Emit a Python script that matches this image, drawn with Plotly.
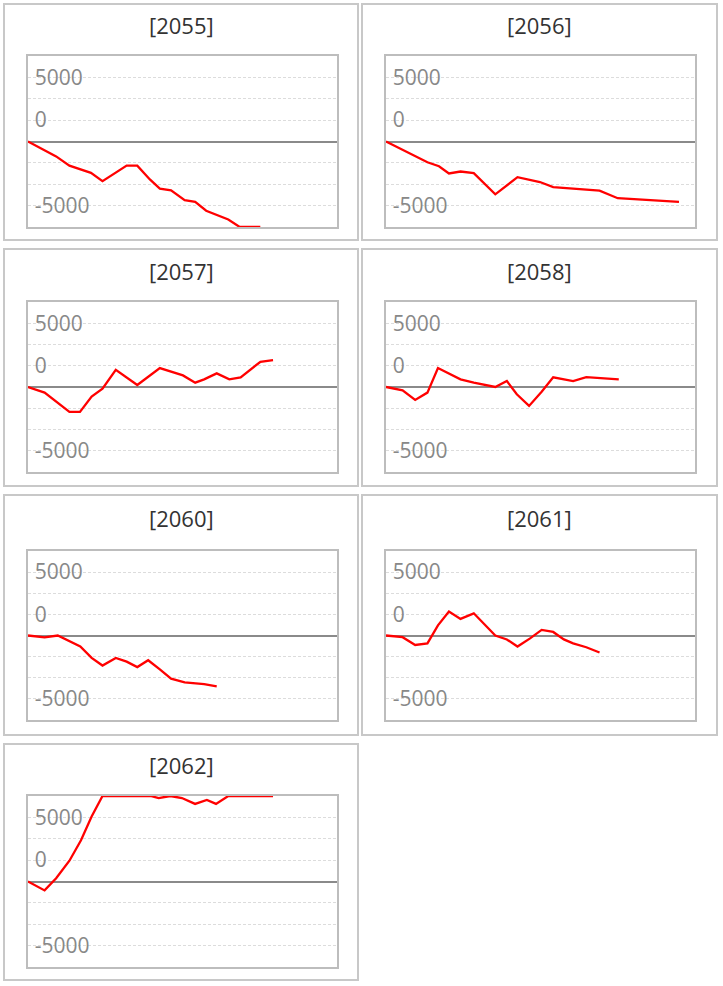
import plotly.graph_objects as go

W, H = 723, 986

# ---- data (x: time steps, y: values) ----
titles = ["[2055]", "[2056]", "[2057]", "[2058]", "[2060]", "[2061]", "[2062]"]

x_2055 = [0, 2.46, 3.62, 5.50, 6.51, 8.62, 9.55, 10.65, 11.52, 12.5, 13.69, 14.61, 15.57, 17.5, 18.5, 20.3]
y_2055 = [0, -1160, -1880, -2440, -3090, -1880, -1880, -2960, -3680, -3810, -4580, -4710, -5400, -6080, -6667, -6667]

x_2056 = [0, 3.62, 4.63, 5.50, 6.51, 7.67, 9.55, 11.49, 13.45, 14.61, 18.66, 20.25, 25.6]
y_2056 = [0, -1620, -1930, -2490, -2340, -2470, -4120, -2780, -3160, -3550, -3830, -4420, -4710]

x_2057 = [0, 1.45, 3.62, 4.54, 5.56, 6.51, 7.67, 9.55, 11.52, 13.54, 14.61, 15.39, 16.49, 17.59, 18.58, 20.31, 21.41]
y_2057 = [0, -440, -1950, -1950, -755, -130, 1350, 160, 1485, 910, 340, 600, 1070, 600, 755, 1980, 2110]

x_2058 = [0, 1.45, 2.55, 3.62, 4.54, 6.51, 7.67, 9.55, 10.56, 11.43, 12.5, 13.6, 14.61, 16.35, 17.5, 18.66, 20.34]
y_2058 = [0, -260, -1015, -440, 1485, 600, 340, 0, 470, -570, -1485, -365, 755, 470, 780, 700, 600]

x_2060 = [0, 1.45, 2.6, 4.57, 5.56, 6.51, 7.67, 8.62, 9.55, 10.5, 11.52, 12.5, 13.69, 15.39, 16.49]
y_2060 = [0, -150, 0, -870, -1770, -2370, -1770, -2060, -2490, -1950, -2670, -3400, -3700, -3830, -4010]

x_2061 = [0, 1.45, 2.55, 3.62, 4.54, 5.5, 6.51, 7.67, 9.55, 10.56, 11.49, 12.59, 13.6, 14.61, 15.54, 16.35, 17.5, 18.66]
y_2061 = [0, -130, -745, -620, 800, 1900, 1310, 1750, 0, -310, -870, -230, 440, 280, -310, -620, -925, -1340]

x_2062 = [0, 1.45, 2.46, 3.62, 4.63, 5.56, 6.51, 10.7, 11.42, 12.44, 13.45, 14.6, 15.63, 16.43, 17.5, 21.41]
y_2062 = [0, -695, 260, 1620, 3215, 5065, 6667, 6667, 6510, 6667, 6510, 6050, 6360, 6050, 6667, 6667]

xs = [x_2055, x_2056, x_2057, x_2058, x_2060, x_2061, x_2062]
ys = [y_2055, y_2056, y_2057, y_2058, y_2060, y_2061, y_2062]

y_tickvals = [-5000, -3333.33, -1666.67, 1666.67, 3333.33, 5000]
y_ticktext = ["-5000", "", "", "0", "", "5000"]
Y_RANGE = [-6666.67, 6666.67]
X_RANGE = [0, 27]

# ---- layout geometry (pixels) ----
col_panel = [(4, 358), (362, 717)]
row_panel = [(4, 240), (249, 486), (495, 735), (744, 980)]
col_plot = [(28, 337), (386, 695)]
row_plot = [(56, 227), (302, 472), (551, 720), (796, 967)]
title_y = [25, 271, 518, 765]

def px(x):
    return x / W

def py(y):
    return 1 - y / H

fig = go.Figure()
layout = dict(
    width=W, height=H,
    margin=dict(l=0, r=0, t=0, b=0),
    paper_bgcolor="white", plot_bgcolor="white",
    showlegend=False,
    font=dict(family="Open Sans, sans-serif"),
)
shapes = []
annotations = []

for i, (xv, yv) in enumerate(zip(xs, ys)):
    r, c = divmod(i, 2)
    n = i + 1
    xa = "x" if n == 1 else f"x{n}"
    ya = "y" if n == 1 else f"y{n}"
    fig.add_trace(go.Scatter(x=xv, y=yv, mode="lines", xaxis=xa, yaxis=ya,
                             line=dict(color="#ff0000", width=2.3),
                             hoverinfo="skip"))
    xkey = "xaxis" if n == 1 else f"xaxis{n}"
    ykey = "yaxis" if n == 1 else f"yaxis{n}"
    layout[xkey] = dict(domain=[px(col_plot[c][0]), px(col_plot[c][1])],
                        anchor=ya, range=X_RANGE, showgrid=False, zeroline=False,
                        showticklabels=False, ticks="", showline=True, mirror=True,
                        linecolor="#bdbdbd", linewidth=2, layer="below traces",
                        fixedrange=True)
    layout[ykey] = dict(domain=[py(row_plot[r][1]), py(row_plot[r][0])],
                        anchor=xa, range=Y_RANGE, tickmode="array",
                        tickvals=y_tickvals, ticktext=y_ticktext,
                        ticklabelposition="inside", ticks="", ticklabelstandoff=8,
                        tickfont=dict(family="Open Sans, sans-serif", size=21, color="#888888"),
                        showgrid=True, gridcolor="#dcdcdc", gridwidth=1, griddash="3px,2px",
                        zeroline=True, zerolinecolor="#8a8a8a", zerolinewidth=1.6,
                        showline=True, mirror=True, linecolor="#bdbdbd", linewidth=2,
                        layer="below traces", fixedrange=True)
    shapes.append(dict(type="rect", xref="paper", yref="paper",
                       x0=px(col_panel[c][0]), x1=px(col_panel[c][1]),
                       y0=py(row_panel[r][1]), y1=py(row_panel[r][0]),
                       line=dict(color="#c8c8c8", width=2), layer="below"))
    annotations.append(dict(text=titles[i], xref="paper", yref="paper",
                            x=px((col_panel[c][0] + col_panel[c][1]) / 2),
                            y=py(title_y[r]), xanchor="center", yanchor="middle",
                            showarrow=False,
                            font=dict(family="Open Sans, sans-serif", size=22, color="#333333")))

layout["shapes"] = shapes
layout["annotations"] = annotations
fig.update_layout(**layout)

fig.write_html("out.html", config={"displayModeBar": False},
               post_script="document.body.style.margin='0';")
